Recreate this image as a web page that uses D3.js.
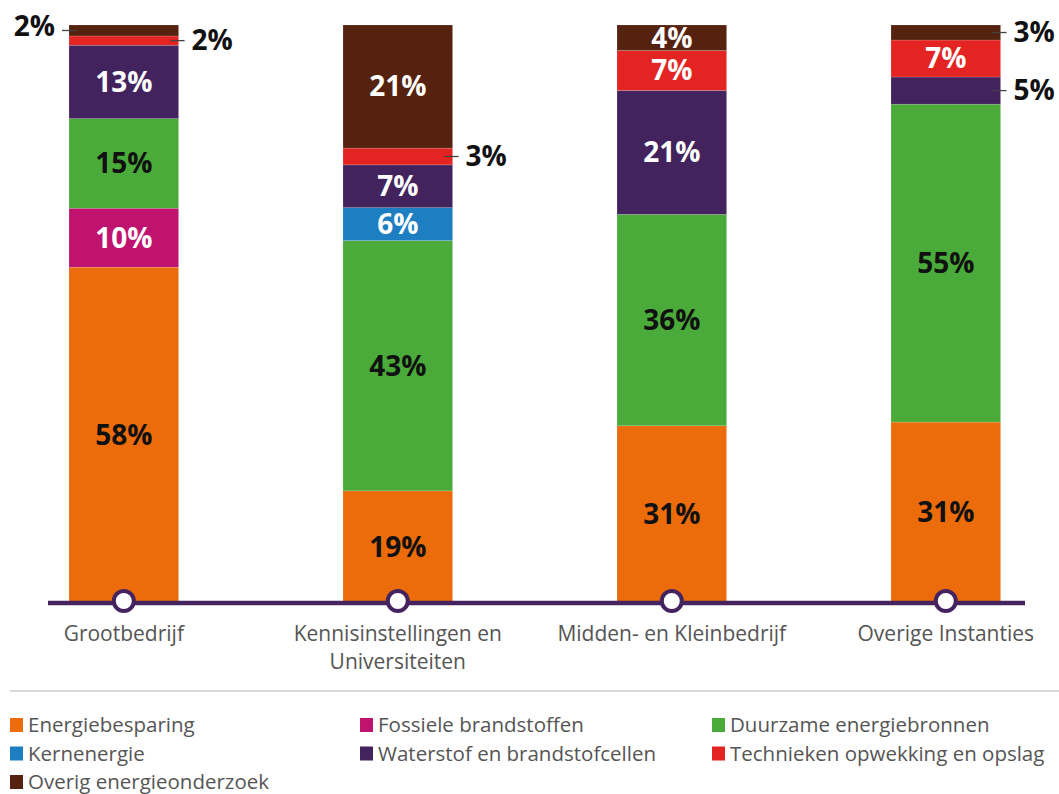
<!DOCTYPE html>
<html><head><meta charset="utf-8">
<script src="https://cdn.jsdelivr.net/npm/d3@7"></script>
<style>body{margin:0;background:#fff}svg{display:block}</style>
</head><body>
<svg id="chart" width="1059" height="794"></svg>
<script>
const categories = ["Grootbedrijf", "Kennisinstellingen en Universiteiten", "Midden- en Kleinbedrijf", "Overige Instanties"];
const categoryLines = [["Grootbedrijf"], ["Kennisinstellingen en", "Universiteiten"], ["Midden- en Kleinbedrijf"], ["Overige Instanties"]];
const seriesNames = ["Energiebesparing", "Fossiele brandstoffen", "Duurzame energiebronnen", "Kernenergie", "Waterstof en brandstofcellen", "Technieken opwekking en opslag", "Overig energieonderzoek"];
const energiebesparing = [58.1, 19.4, 30.6, 31.3];
const fossiele = [10.2, 0, 0, 0];
const duurzame = [15.5, 43.3, 36.5, 55.0];
const kernenergie = [0, 5.7, 0, 0];
const waterstof = [12.7, 7.4, 21.4, 4.7];
const technieken = [1.6, 2.9, 6.9, 6.4];
const overig = [1.9, 21.3, 4.4, 2.6];
const valueLabels = [
  ["58%", "10%", "15%", "", "13%", "2%", "2%"],
  ["19%", "", "43%", "6%", "7%", "3%", "21%"],
  ["31%", "", "36%", "", "21%", "7%", "4%"],
  ["31%", "", "55%", "", "5%", "7%", "3%"]
];
// labels drawn outside the bar: [categoryIndex, seriesIndex, side]
const outsideLabels = [[0, 6, "left"], [0, 5, "right"], [1, 5, "right"], [3, 6, "right"], [3, 4, "right"]];

const colors = ["#ec6c0c", "#c0136f", "#4aab3a", "#1d7ec2", "#43235e", "#e32422", "#55220f"];
const darkText = [true, false, true, false, false, false, false];

const seriesValues = [energiebesparing, fossiele, duurzame, kernenergie, waterstof, technieken, overig];
const rows = categories.map((c, i) => {
  const r = {cat: c, idx: i};
  seriesNames.forEach((s, j) => r[s] = seriesValues[j][i]);
  return r;
});

const svg = d3.select("#chart");
const x = d3.scaleBand().domain(categories).range([-13.2, 1082.8]).paddingInner(0.6).paddingOuter(0.3);
const y = d3.scaleLinear().domain([0, 1]).range([603, 25]);
const stack = d3.stack().keys(seriesNames).offset(d3.stackOffsetExpand);
const stacked = stack(rows);

const font = "'Open Sans', sans-serif";
const lblSize = 28;

const g = svg.append("g");
stacked.forEach((layer, j) => {
  g.selectAll(null).data(layer).enter().append("rect")
    .attr("x", d => x(d.data.cat))
    .attr("width", x.bandwidth())
    .attr("y", d => y(d[1]))
    .attr("height", d => Math.max(0, y(d[0]) - y(d[1])))
    .attr("fill", colors[j])
    .attr("stroke", "rgba(255,255,255,0.25)")
    .attr("stroke-width", 0.6);
});

const isOutside = (ci, sj) => outsideLabels.find(o => o[0] === ci && o[1] === sj);

stacked.forEach((layer, j) => {
  layer.forEach((d, i) => {
    const txt = valueLabels[i][j];
    if (!txt) return;
    const cy = (y(d[0]) + y(d[1])) / 2;
    const o = isOutside(i, j);
    if (o) {
      const left = x(d.data.cat), right = left + x.bandwidth();
      if (o[2] === "right") {
        g.append("line").attr("x1", right - 8).attr("x2", right + 6).attr("y1", cy).attr("y2", cy)
          .attr("stroke", "#444").attr("stroke-width", 1.3);
        g.append("text").attr("x", right + 13).attr("y", cy).attr("dy", "0.35em")
          .attr("font-family", font).attr("font-weight", 700).attr("font-size", lblSize)
          .attr("fill", "#111").text(txt);
      } else {
        g.append("line").attr("x1", left - 7).attr("x2", left + 8).attr("y1", cy).attr("y2", cy)
          .attr("stroke", "#444").attr("stroke-width", 1.3);
        g.append("text").attr("x", left - 14).attr("y", cy - 4).attr("dy", "0.35em")
          .attr("text-anchor", "end")
          .attr("font-family", font).attr("font-weight", 700).attr("font-size", lblSize)
          .attr("fill", "#111").text(txt);
      }
    } else {
      g.append("text").attr("x", x(d.data.cat) + x.bandwidth() / 2).attr("y", cy).attr("dy", "0.35em")
        .attr("text-anchor", "middle")
        .attr("font-family", font).attr("font-weight", 700).attr("font-size", lblSize)
        .attr("fill", darkText[j] ? "#111" : "#fff").text(txt);
    }
  });
});

svg.append("line").attr("x1", 48).attr("x2", 1025).attr("y1", 603).attr("y2", 603)
  .attr("stroke", "#45235f").attr("stroke-width", 4.5);
categories.forEach((c, i) => {
  const cx = x(c) + x.bandwidth() / 2;
  svg.append("circle").attr("cx", cx).attr("cy", 601).attr("r", 10)
    .attr("fill", "#fff").attr("stroke", "#45235f").attr("stroke-width", 4);
  categoryLines[i].forEach((ln, k) => {
    svg.append("text").attr("x", cx).attr("y", 641 + k * 28).attr("text-anchor", "middle")
      .attr("font-family", font).attr("font-size", 21).attr("fill", "#555").text(ln);
  });
});

svg.append("line").attr("x1", 10).attr("x2", 1059).attr("y1", 691).attr("y2", 691)
  .attr("stroke", "#d9d9d9").attr("stroke-width", 2);

const legCols = [10, 360, 712];
seriesNames.forEach((s, j) => {
  const col = j % 3, row = Math.floor(j / 3);
  const lx = legCols[col], ly = 725 + row * 28.5;
  svg.append("rect").attr("x", lx).attr("y", ly - 7).attr("width", 13).attr("height", 14).attr("fill", colors[j]);
  svg.append("text").attr("x", lx + 18).attr("y", ly).attr("dy", "0.35em")
    .attr("font-family", font).attr("font-size", 20.5).attr("fill", "#555").text(s);
});
</script>
</body></html>
